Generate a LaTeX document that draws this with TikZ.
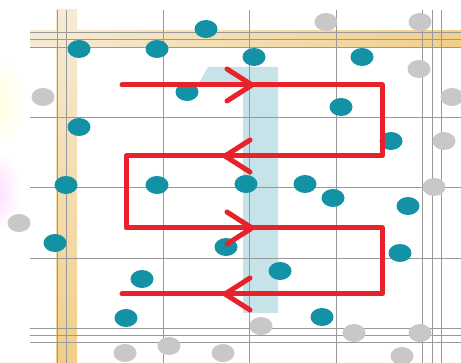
\documentclass[tikz,border=0pt]{standalone}
\usetikzlibrary{calc}
\definecolor{teal1}{HTML}{1392A6}
\definecolor{dotgray}{HTML}{C8C8C8}
\definecolor{gridgray}{HTML}{999999}
\definecolor{redline}{HTML}{E8222B}
\definecolor{onecol}{HTML}{C6E3E9}
\definecolor{tanlight}{HTML}{F5EBD5}
\definecolor{tandark}{HTML}{F1CF8A}
\tikzset{
  tdot/.style={fill=teal1},
  gdot/.style={fill=dotgray},
  gridline/.style={draw=gridgray, line width=0.95pt},
  redpath/.style={draw=redline, line width=5pt, line join=round, line cap=round},
}
\begin{document}
\begin{tikzpicture}[x=1pt,y=-1pt]
\useasboundingbox (0,0) rectangle (461,363);
\fill[white] (0,0) rectangle (461,363);
% soft glows at left edge
\shade[inner color=yellow!12, outer color=white] (2,100) ellipse (22 and 48);
\shade[inner color=magenta!12, outer color=white] (0,192) ellipse (20 and 40);
% tan bands
\shade[left color=tanlight, right color=tandark] (30,31) rectangle (461,47);
\shade[top color=tanlight, bottom color=tandark] (56,10) rectangle (77,363);
% light blue "1"
\fill[onecol] (197,87) -- (208,67) -- (278,67) -- (278,313) -- (243,313) -- (243,87) -- cycle;
% grid lines
\foreach \y in {32,39,47,117,187,258,328,335,342}
  \draw[gridline] (30,\y) -- (461,\y);
\foreach \x in {57,66,163,249,336,422,432,441}
  \draw[gridline] (\x,10) -- (\x,363);
% gray dots
\foreach \p in {(43,97),(326,22),(420,22),(419,69),(452,97),(444,141),(434,187),(19,223),
  (261,326),(354,333),(420,333),(402,356),(125,353),(169,346),(223,353)}
  \fill[gdot] \p ellipse (11.5 and 9);
% teal dots
\foreach \p in {(79,49),(157,49),(206,29),(254,57),(362,57),(187,92),(341,107),(79,127),
  (391,141),(66,185),(157,185),(246,184),(305,184),(333,198),(408,206),(55,243),
  (226,247),(400,253),(280,271),(142,279),(126,318),(322,317)}
  \fill[tdot] \p ellipse (11.5 and 9);
% red path
\coordinate (p1) at (122,85);
\coordinate (p2) at (382,85);
\coordinate (p3) at (382,156);
\coordinate (p4) at (126,156);
\coordinate (p5) at (126,228);
\coordinate (p6) at (382,228);
\coordinate (p7) at (382,294);
\coordinate (p8) at (122,294);
\draw[redpath] (p1) -- (p2) -- (p3) -- (p4) -- (p5) -- (p6) -- (p7) -- (p8);
% chevron arrowheads
\coordinate (a1) at (252,85);
\coordinate (a2) at (225,156);
\coordinate (a3) at (252,228);
\coordinate (a4) at (225,294);
\draw[redpath] ($(a1)+(-25,-16)$) -- (a1) -- ($(a1)+(-25,16)$);
\draw[redpath] ($(a2)+(25,-16)$) -- (a2) -- ($(a2)+(25,16)$);
\draw[redpath] ($(a3)+(-25,-16)$) -- (a3) -- ($(a3)+(-25,16)$);
\draw[redpath] ($(a4)+(25,-16)$) -- (a4) -- ($(a4)+(25,16)$);
\end{tikzpicture}
\end{document}
